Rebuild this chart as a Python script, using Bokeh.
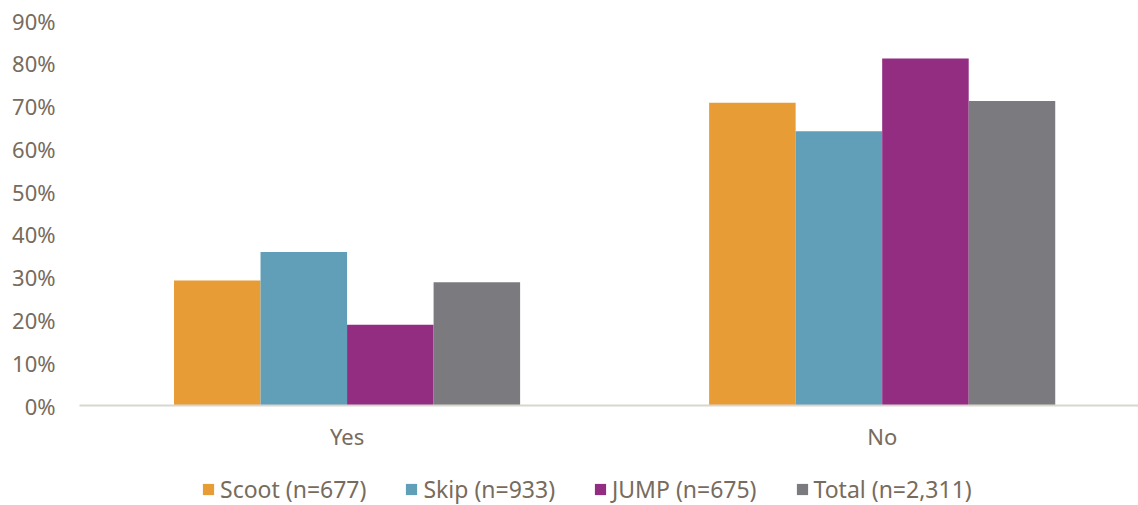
from bokeh.plotting import figure
from bokeh.layouts import column
from bokeh.models import Range1d, FixedTicker, NumeralTickFormatter, Legend, LegendItem, ColumnDataSource
from bokeh.embed import file_html
from bokeh.resources import INLINE

categories = ["Yes", "No"]
series_names = ["Scoot (n=677)", "Skip (n=933)", "JUMP (n=675)", "Total (n=2,311)"]
scoot = [0.292, 0.708]
skip = [0.359, 0.641]
jump = [0.189, 0.811]
total = [0.288, 0.712]
colors = ["#E89C35", "#619FB9", "#922D82", "#7B7B7F"]
y_ticks = [0, 0.1, 0.2, 0.3, 0.4, 0.5, 0.6, 0.7, 0.8, 0.9]

FONT = "Noto Sans"
TXT = "#776B5D"

p = figure(width=1138, height=470, output_backend="svg", toolbar_location=None,
           x_range=Range1d(0, 1.979), y_range=Range1d(0, 0.9),
           min_border_left=79, min_border_right=0, min_border_top=20, min_border_bottom=65)
p.outline_line_color = None
p.xgrid.visible = False
p.ygrid.visible = False

centers = [0.5 + i for i in range(len(categories))]
w = 0.1617
offsets = [-1.5 * w, -0.5 * w, 0.5 * w, 1.5 * w]
for vals, col, off in zip([scoot, skip, jump, total], colors, offsets):
    src = ColumnDataSource(dict(x=[c + off for c in centers], top=vals))
    p.vbar(x="x", top="top", width=w, bottom=0, source=src, fill_color=col, line_color=None)

p.xaxis.ticker = FixedTicker(ticks=centers)
p.xaxis.major_label_overrides = {c: cat for c, cat in zip(centers, categories)}
p.xaxis.axis_line_color = "#D9D5D0"
p.xaxis.axis_line_width = 2
p.xaxis.major_tick_line_color = None
p.xaxis.minor_tick_line_color = None
p.xaxis.major_label_text_font = FONT
p.xaxis.major_label_text_font_size = "22px"
p.xaxis.major_label_text_color = TXT
p.xaxis.major_label_standoff = 9

p.yaxis.ticker = FixedTicker(ticks=y_ticks)
p.yaxis.formatter = NumeralTickFormatter(format="0%")
p.yaxis.axis_line_color = None
p.yaxis.major_tick_line_color = None
p.yaxis.minor_tick_line_color = None
p.yaxis.major_label_text_font = FONT
p.yaxis.major_label_text_font_size = "22px"
p.yaxis.major_label_text_color = TXT
p.yaxis.major_label_standoff = 18

# legend strip
lg = figure(width=1138, height=35, output_backend="svg", toolbar_location=None,
            x_range=Range1d(0, 1), y_range=Range1d(0, 1),
            x_axis_location=None, y_axis_location=None,
            min_border_left=0, min_border_right=0, min_border_top=0, min_border_bottom=0)
lg.outline_line_color = None
lg.grid.visible = False
items = []
for name, col in zip(series_names, colors):
    # zero-height proxy bars: only their legend swatch shows
    r = lg.vbar(x=[0.5], top=[0], bottom=[0], width=0.1, fill_color=col, line_color=None)
    items.append(LegendItem(label=name, renderers=[r]))
legend = Legend(items=items, orientation="horizontal", location=(122, 0),
                label_text_font=FONT, label_text_font_size="23px", label_text_color=TXT,
                glyph_width=14, glyph_height=14, label_standoff=5, spacing=38,
                border_line_color=None, background_fill_alpha=0, margin=0, padding=2)
lg.add_layout(legend, "center")

layout = column(p, lg, spacing=0)
open("out.html", "w").write(file_html(layout, INLINE))
